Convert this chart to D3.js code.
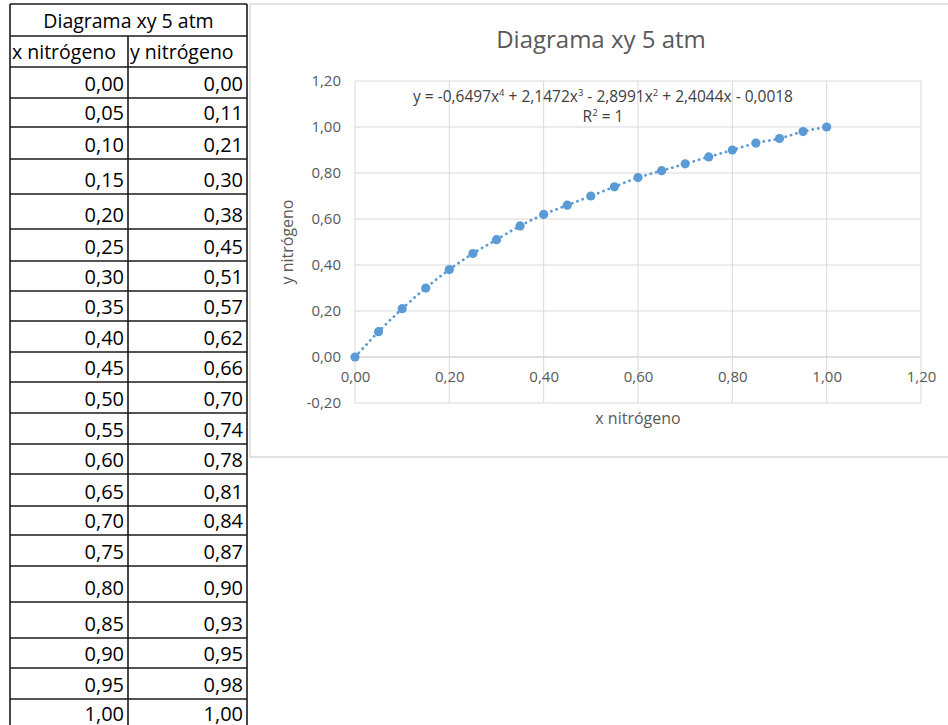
<!DOCTYPE html>
<html>
<head>
<meta charset="utf-8">
<script src="https://cdn.jsdelivr.net/npm/d3@7"></script>
<style>
  body { margin: 0; background: #fff; }
  text { font-family: "Open Sans", sans-serif; }
</style>
</head>
<body>
<div id="maindiv"></div>
<script>
// data read from the sheet
var tableTitle = "Diagrama xy 5 atm";
var headers = ["x nitrógeno", "y nitrógeno"];
var xVals = [0.00, 0.05, 0.10, 0.15, 0.20, 0.25, 0.30, 0.35, 0.40, 0.45, 0.50,
             0.55, 0.60, 0.65, 0.70, 0.75, 0.80, 0.85, 0.90, 0.95, 1.00];
var yVals = [0.00, 0.11, 0.21, 0.30, 0.38, 0.45, 0.51, 0.57, 0.62, 0.66, 0.70,
             0.74, 0.78, 0.81, 0.84, 0.87, 0.90, 0.93, 0.95, 0.98, 1.00];
var xTicks = [0, 0.2, 0.4, 0.6, 0.8, 1.0, 1.2];
var yTicks = [-0.2, 0, 0.2, 0.4, 0.6, 0.8, 1.0, 1.2];
var equation = ["y = -0,6497x", "4", " + 2,1472x", "3", " - 2,8991x", "2", " + 2,4044x - 0,0018"];
var chartTitle = "Diagrama xy 5 atm";
var xLabel = "x nitrógeno";
var yLabel = "y nitrógeno";

// sheet row heights (title, header, then data rows)
var rowHeights = [32, 31, 31, 29, 32, 35, 35, 32, 30, 30, 31, 30, 31, 31, 30, 32, 29, 31, 36, 36, 30, 31, 29];

var width = 948, height = 725;
var blue = "#5b9bd5";

var locale = d3.formatLocale({ decimal: ",", thousands: ".", grouping: [3], currency: ["", ""], minus: "-" });
var fmt = locale.format(".2f");

var svg = d3.select("#maindiv").append("svg")
    .attr("width", width)
    .attr("height", height);

//---------table-----------
var colX = [10, 128, 247];
var rowY = [4];
rowHeights.forEach(function (h, i) { rowY.push(rowY[i] + h); });

var table = svg.append("g");
var tableFont = 20;

// title row
table.append("text")
    .attr("x", (colX[0] + colX[2]) / 2)
    .attr("y", rowY[1] - 8)
    .attr("text-anchor", "middle")
    .attr("font-size", 19.5)
    .attr("fill", "#000")
    .text(tableTitle);

// header row
headers.forEach(function (h, i) {
    table.append("text")
        .attr("x", colX[i] + 2)
        .attr("y", rowY[2] - 8)
        .attr("font-size", 19.5)
        .attr("fill", "#000")
        .text(h);
});

// data rows
xVals.forEach(function (xv, i) {
    var bottom = rowY[i + 3];
    [xv, yVals[i]].forEach(function (v, c) {
        table.append("text")
            .attr("x", colX[c + 1] - 4)
            .attr("y", bottom - 7.5)
            .attr("text-anchor", "end")
            .attr("font-size", tableFont)
            .attr("fill", "#000")
            .text(fmt(v));
    });
});

// borders
table.selectAll(".hline")
    .data(rowY)
    .enter().append("line")
    .attr("x1", colX[0]).attr("x2", colX[2])
    .attr("y1", d => d).attr("y2", d => d)
    .attr("stroke", "#1a1a1a").attr("stroke-width", 1.6);

var lastY = height + 10;
table.append("line")
    .attr("x1", colX[0]).attr("x2", colX[0])
    .attr("y1", rowY[0]).attr("y2", lastY)
    .attr("stroke", "#1a1a1a").attr("stroke-width", 1.6);
table.append("line")
    .attr("x1", colX[2]).attr("x2", colX[2])
    .attr("y1", rowY[0]).attr("y2", lastY)
    .attr("stroke", "#1a1a1a").attr("stroke-width", 1.6);
table.append("line")
    .attr("x1", colX[1]).attr("x2", colX[1])
    .attr("y1", rowY[1]).attr("y2", lastY)
    .attr("stroke", "#1a1a1a").attr("stroke-width", 1.6);

//---------chart-----------
var frame = { left: 250, top: 4, right: 960, bottom: 457 };
svg.append("rect")
    .attr("x", frame.left).attr("y", frame.top)
    .attr("width", frame.right - frame.left)
    .attr("height", frame.bottom - frame.top)
    .attr("fill", "none")
    .attr("stroke", "#d9d9d9")
    .attr("stroke-width", 1.5);

var plot = { left: 355, right: 921, top: 81, bottom: 403 };

var x = d3.scaleLinear().domain([0, 1.2]).range([plot.left, plot.right]);
var y = d3.scaleLinear().domain([-0.2, 1.2]).range([plot.bottom, plot.top]);

var chart = svg.append("g");

// gridlines
chart.append("g")
    .selectAll("line")
    .data(yTicks)
    .enter().append("line")
    .attr("x1", plot.left).attr("x2", plot.right)
    .attr("y1", d => y(d)).attr("y2", d => y(d))
    .attr("stroke", d => d === 0 ? "#bfbfbf" : "#d9d9d9")
    .attr("stroke-width", 1);

chart.append("g")
    .selectAll("line")
    .data(xTicks)
    .enter().append("line")
    .attr("x1", d => x(d)).attr("x2", d => x(d))
    .attr("y1", plot.top).attr("y2", plot.bottom)
    .attr("stroke", "#d9d9d9")
    .attr("stroke-width", 1);

// y axis labels
var yAxis = d3.axisLeft(y).tickValues(yTicks).tickFormat(fmt).tickSize(0).tickPadding(14);
chart.append("g")
    .attr("transform", `translate(${plot.left},0)`)
    .call(yAxis)
    .call(g => g.select(".domain").remove())
    .call(g => g.selectAll("text")
        .attr("font-family", "Open Sans, sans-serif")
        .attr("font-size", 15)
        .attr("fill", "#595959"));

// x axis labels sit on the y=0 line
var xAxis = d3.axisBottom(x).tickValues(xTicks).tickFormat(fmt).tickSize(0).tickPadding(14);
chart.append("g")
    .attr("transform", `translate(0,${y(0)})`)
    .call(xAxis)
    .call(g => g.select(".domain").remove())
    .call(g => g.selectAll("text")
        .attr("font-family", "Open Sans, sans-serif")
        .attr("font-size", 15)
        .attr("fill", "#595959"));

// titles
chart.append("text")
    .attr("x", 601).attr("y", 48)
    .attr("text-anchor", "middle")
    .attr("font-size", 24)
    .attr("fill", "#595959")
    .text(chartTitle);

chart.append("text")
    .attr("x", (plot.left + plot.right) / 2).attr("y", 424)
    .attr("text-anchor", "middle")
    .attr("font-size", 16)
    .attr("fill", "#595959")
    .text(xLabel);

chart.append("text")
    .attr("transform", "translate(293,242) rotate(-90)")
    .attr("text-anchor", "middle")
    .attr("font-size", 16)
    .attr("fill", "#595959")
    .text(yLabel);

// trendline (dotted) through the points
var pts = xVals.map((d, i) => [d, yVals[i]]);
var line = d3.line()
    .x(d => x(d[0]))
    .y(d => y(d[1]))
    .curve(d3.curveMonotoneX);

chart.append("path")
    .datum(pts)
    .attr("d", line)
    .attr("fill", "none")
    .attr("stroke", blue)
    .attr("stroke-width", 2.8)
    .attr("stroke-linecap", "round")
    .attr("stroke-dasharray", "0.1 5.5");

// markers
chart.append("g")
    .selectAll("circle")
    .data(pts)
    .enter().append("circle")
    .attr("cx", d => x(d[0]))
    .attr("cy", d => y(d[1]))
    .attr("r", 4.6)
    .attr("fill", blue);

// trendline equation
var eq = chart.append("text")
    .attr("x", 603).attr("y", 102)
    .attr("text-anchor", "middle")
    .attr("font-size", 15.5)
    .attr("fill", "#404040");
equation.forEach(function (s, i) {
    var t = eq.append("tspan").text(s);
    if (i % 2 === 1) t.attr("font-size", 9.5).attr("dy", -6);
    else if (i > 0) t.attr("dy", 6);
});

var r2 = chart.append("text")
    .attr("x", 603).attr("y", 122)
    .attr("text-anchor", "middle")
    .attr("font-size", 15.5)
    .attr("fill", "#404040");
r2.append("tspan").text("R");
r2.append("tspan").text("2").attr("font-size", 9.5).attr("dy", -6);
r2.append("tspan").text(" = 1").attr("dy", 6);
</script>
</body>
</html>
